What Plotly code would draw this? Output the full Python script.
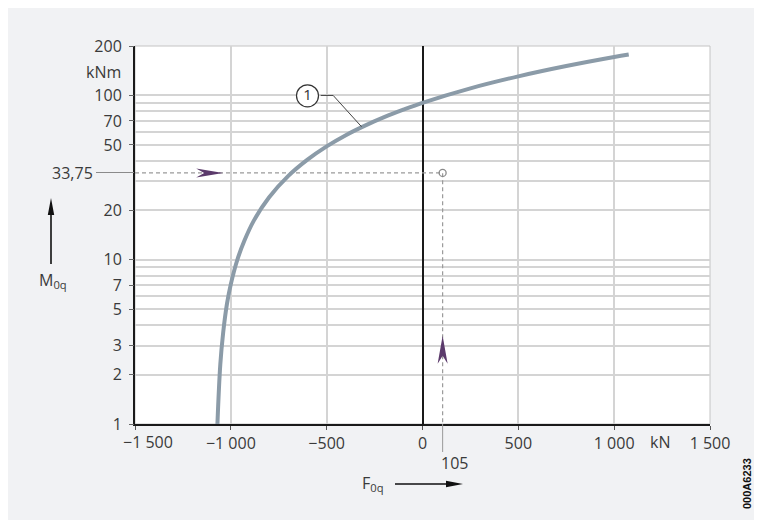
import numpy as np
import plotly.graph_objects as go

# curve (1): F0q in kN vs M0q in kNm
force_kn = [-1070, -1055, -1040, -1020, -1000, -966, -930, -880, -800, -700,
            -600, -500, -400, -300, -200, -100, 0, 250, 500, 750, 1000, 1076]
moment_knm = [1, 2.3, 3.6, 5.4, 7.1, 10, 13, 17.3, 24, 32.4, 40.7, 49, 57.3,
              65.5, 73.7, 81.9, 90.2, 110.5, 130.7, 151, 171.4, 177.4]

# example reading
ex_force = 105
ex_moment = 33.75

# axis ticks
x_ticks = [-1500, -1000, -500, 0, 500, 1000, 1500]
x_ticktext = ['', '\u22121 000', '\u2212500', '0', '500', '1 000', '1 500']
y_ticks = [1, 2, 3, 5, 7, 10, 20, 50, 70, 100, 200]
y_grid = [1, 2, 3, 4, 5, 6, 7, 8, 9, 10, 20, 30, 40, 50, 60, 70, 80, 90, 100, 200]

# figure geometry (pixels); the page body adds an 8 px margin
OFF = 8
W, H = 762 - OFF, 520 - OFF
ML, MR, MT, MB = 127, 52, 38, 96
PW, PH = W - ML - MR, H - MT - MB


def px(xp):
    # page x -> paper
    return (xp - OFF - ML) / PW


def py(yp):
    # page y -> paper
    return (H + OFF - MB - yp) / PH


YMAX = np.log10(200)
FONT = 'Open Sans'
TXT = '#3a3a3a'
GRID = '#d4d4d4'
PURPLE = '#5b3a6b'

fig = go.Figure()

# dashed guide lines of the example
fig.add_trace(go.Scatter(
    x=[x_ticks[0], ex_force, ex_force], y=[ex_moment, ex_moment, 1],
    mode='lines', line=dict(color='#9a9a9a', width=1.2, dash='4px,3px'),
    hoverinfo='skip', showlegend=False
))

# limit curve
fig.add_trace(go.Scatter(
    x=force_kn, y=moment_knm, mode='lines',
    line=dict(color='#8b9ba8', width=4, shape='spline', smoothing=1),
    showlegend=False
))

# small circle at the operating point
fig.add_trace(go.Scatter(
    x=[ex_force], y=[ex_moment], mode='markers', yaxis='y2',
    marker=dict(symbol='circle-open', size=7, color='#8a8a8a', line=dict(width=1.3)),
    showlegend=False, hoverinfo='skip'
))

# callout (1): leader line and circled number
fig.add_trace(go.Scatter(
    x=[-531, -466, -318], y=[100, 100, 64.5], mode='lines', yaxis='y3',
    line=dict(color='#444', width=1), showlegend=False, hoverinfo='skip'
))
fig.add_trace(go.Scatter(
    x=[-600], y=[99.5], mode='markers+text', yaxis='y3', text=['1'],
    textposition='middle center', textfont=dict(family=FONT, size=15, color='#333'),
    marker=dict(symbol='circle', size=22, color='white', line=dict(color='#333', width=1.2)),
    showlegend=False, hoverinfo='skip'
))

shapes = [
    # plot frame (top / right)
    dict(type='rect', xref='paper', yref='paper', x0=0, x1=1, y0=0, y1=1,
         line=dict(color='#c4c4c4', width=1), layer='below'),
    # solid continuation of the 105 line below the axis
    dict(type='line', xref='x', yref='paper', x0=ex_force, x1=ex_force, y0=0, y1=py(452),
         line=dict(color='#9a9a9a', width=1)),
    # purple arrowheads
    dict(type='path', xref='x', yref='paper', xsizemode='pixel', ysizemode='pixel',
         xanchor=-1040, yanchor=np.log10(ex_moment) / YMAX,
         path='M0,0 L-27,4.5 L-19,0 L-27,-4.5 Z', fillcolor=PURPLE, line=dict(width=0)),
    dict(type='path', xref='x', yref='paper', xsizemode='pixel', ysizemode='pixel',
         xanchor=ex_force, yanchor=np.log10(3.45) / YMAX,
         path='M0,0 L-5,-28 L0,-20 L5,-28 Z', fillcolor=PURPLE, line=dict(width=0)),
    # F0q arrow
    dict(type='path', xref='paper', yref='paper', xsizemode='pixel', ysizemode='pixel',
         xanchor=px(463), yanchor=py(484),
         path='M-68,-0.8 L-17,-0.8 L-17,-3.2 L0,0 L-17,3.2 L-17,0.8 L-68,0.8 Z',
         fillcolor='#111', line=dict(width=0)),
    # M0q arrow
    dict(type='path', xref='paper', yref='paper', xsizemode='pixel', ysizemode='pixel',
         xanchor=px(51), yanchor=py(198),
         path='M0,0 L3.2,-17 L0.8,-17 L0.8,-66 L-0.8,-66 L-0.8,-17 L-3.2,-17 Z',
         fillcolor='#111', line=dict(width=0)),
]

annotations = [
    dict(text='kNm', xref='paper', yref='paper', x=px(123), y=py(72),
         xanchor='right', yanchor='middle', showarrow=False,
         font=dict(family=FONT, size=16, color=TXT)),
    dict(text='\u22121 500', xref='paper', yref='paper', x=px(148), y=py(442),
         xanchor='center', yanchor='middle', showarrow=False,
         font=dict(family=FONT, size=16, color=TXT)),
    dict(text='kN', xref='x', yref='paper', x=1238, y=py(442),
         xanchor='center', yanchor='middle', showarrow=False,
         font=dict(family=FONT, size=16, color=TXT)),
    dict(text='105', xref='x', yref='paper', x=ex_force, xshift=-4, y=py(463),
         xanchor='left', yanchor='middle', showarrow=False,
         font=dict(family=FONT, size=16, color=TXT)),
    dict(text='F<sub>0q</sub>', xref='paper', yref='paper', x=px(373), y=py(484),
         xanchor='center', yanchor='middle', showarrow=False,
         font=dict(family=FONT, size=16, color=TXT)),
    dict(text='M<sub>0q</sub>', xref='paper', yref='paper', x=px(53), y=py(280),
         xanchor='center', yanchor='middle', showarrow=False,
         font=dict(family=FONT, size=16, color=TXT)),
    dict(text='<b>000A6233</b>', xref='paper', yref='paper', x=px(747), y=py(484),
         xanchor='center', yanchor='middle', showarrow=False, textangle=-90,
         font=dict(family='Liberation Sans', size=11, color='#111')),
]

tickfont = dict(family=FONT, size=16, color=TXT)

fig.update_layout(
    width=W, height=H,
    margin=dict(l=ML, r=MR, t=MT, b=MB, pad=0),
    paper_bgcolor='#f1f2f4', plot_bgcolor='white',
    showlegend=False,
    shapes=shapes, annotations=annotations,
    xaxis=dict(
        range=[-1500, 1500], tickvals=x_ticks, ticktext=x_ticktext,
        tickfont=tickfont, ticks='outside', ticklen=4, tickcolor='#555',
        showgrid=True, gridcolor=GRID, gridwidth=1.5,
        zeroline=True, zerolinecolor='#1a1a1a', zerolinewidth=2,
        showline=True, linecolor='#1a1a1a', linewidth=2,
        automargin=False, fixedrange=True
    ),
    yaxis=dict(
        type='log', range=[0, YMAX], tickvals=y_grid, showticklabels=False,
        ticks='', showgrid=True, gridcolor=GRID, gridwidth=1.5,
        showline=True, linecolor='#1a1a1a', linewidth=2,
        zeroline=False, automargin=False
    ),
    yaxis2=dict(
        type='log', range=[0, YMAX], overlaying='y', side='left', anchor='x',
        tickvals=[ex_moment], ticktext=['33,75'], tickfont=tickfont,
        ticks='outside', ticklen=38, tickwidth=1, tickcolor='#8a8a8a',
        ticklabelstandoff=0,
        showgrid=False, showline=False, zeroline=False, automargin=False
    ),
    yaxis3=dict(
        type='log', range=[0, YMAX], overlaying='y', side='left', anchor='x',
        tickvals=y_ticks, ticktext=[str(v) for v in y_ticks], tickfont=tickfont,
        ticks='outside', ticklen=5, tickwidth=1, tickcolor='#666',
        ticklabelstandoff=4,
        showgrid=False, showline=False, zeroline=False, automargin=False
    ),
)

fig.write_html("out.html")
